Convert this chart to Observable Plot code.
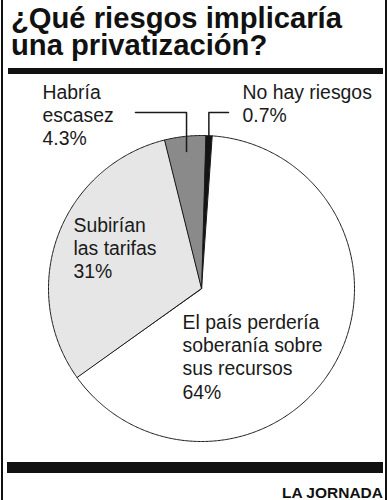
<!DOCTYPE html>
<html>
<head>
<meta charset="utf-8">
<script src="https://cdn.jsdelivr.net/npm/d3@7"></script>
<script src="https://cdn.jsdelivr.net/npm/@observablehq/plot@0.6"></script>
<style>
  body { margin: 0; background: #fff; }
  #wrap { position: relative; width: 389px; height: 500px; overflow: hidden; background: #fff;
          font-family: "Liberation Sans", Arial, Helvetica, sans-serif; color: #111; }
  .border { position: absolute; top: 0; width: 2px; height: 500px; background: #111; }
  .title { position: absolute; left: 11px; font-size: 29.2px; line-height: 27px; height: 27px; font-weight: bold; white-space: nowrap; }
  .bar { position: absolute; background: #111; }
  #chart { position: absolute; left: 0; top: 76px; }
  #credit { position: absolute; right: 6px; top: 484.5px; font-size: 15.5px; line-height: 16px; font-weight: bold; }
</style>
</head>
<body>
<div id="wrap">
  <div class="border" style="left:1px"></div>
  <div class="border" style="left:385px"></div>
  <div class="title" style="top:4.5px">¿Qué riesgos implicaría</div>
  <div class="title" style="top:31.5px">una privatización?</div>
  <div class="bar" style="left:8px;top:68px;width:375px;height:6px"></div>
  <div id="chart"></div>
  <div class="bar" style="left:7px;top:462px;width:376px;height:11px"></div>
  <div id="credit">LA JORNADA</div>
</div>
<script>
// ---- data ----
const categories = ["No hay riesgos", "El país perdería\nsoberanía sobre\nsus recursos", "Subirían\nlas tarifas", "Habría\nescasez"];
const values = [0.7, 64, 31, 4.3];
const valueLabels = ["0.7%", "64%", "31%", "4.3%"];

// ---- layout / style ----
const W = 389, H = 384;
const cx = 201, cy = 212, R = 153;
const rotation = 1.5 * Math.PI / 180;
const fills = ["#141414", "#ffffff", "#e6e6e6", "#8a8a8a"];
const labelPos = [[242, 22], [182, 252], [73, 155], [42, 22]]; // left x, first baseline
const fontSize = 19.4, lineHeight = 1.21;
const leaderSpec = {0: {outerX: 228, elbowY: 36, r: 1.0}, 3: {outerX: 135, elbowY: 36, r: 0.9}};

const arcs = d3.pie().sort(null).startAngle(rotation).endAngle(rotation + 2 * Math.PI)(values);
const pt = (a, r) => ({x: cx + r * Math.sin(a), y: cy - r * Math.cos(a)});

const sliceMarks = arcs.map((a, i) => {
  const pts = [{x: cx, y: cy}];
  const n = Math.max(2, Math.ceil((a.endAngle - a.startAngle) / (Math.PI / 360)));
  for (let k = 0; k <= n; k++) pts.push(pt(a.startAngle + (a.endAngle - a.startAngle) * k / n, R));
  return Plot.line(pts, {x: "x", y: "y", fill: fills[i], stroke: "#1a1a1a", strokeWidth: 1, curve: "linear-closed", strokeLinejoin: "round"});
});

const leaderMarks = Object.entries(leaderSpec).map(([i, s]) => {
  const a = arcs[+i];
  const t = pt((a.startAngle + a.endAngle) / 2, R * s.r);
  return Plot.line([{x: s.outerX, y: s.elbowY}, {x: t.x, y: s.elbowY}, t], {x: "x", y: "y", stroke: "#1a1a1a", strokeWidth: 1.5});
});

const labels = categories.map((c, i) => ({
  text: c + "\n" + valueLabels[i],
  x: labelPos[i][0],
  y: labelPos[i][1] - 0.71 * lineHeight * fontSize
}));

const plot = Plot.plot({
  width: W, height: H,
  margin: 0,
  x: {domain: [0, W], range: [0, W], axis: null},
  y: {domain: [0, H], range: [0, H], axis: null},
  style: {background: "transparent", fontFamily: "\"Liberation Sans\", Arial, Helvetica, sans-serif"},
  marks: [
    ...sliceMarks,
    ...leaderMarks,
    Plot.text(labels, {x: "x", y: "y", text: "text", textAnchor: "start", lineAnchor: "top", lineHeight, fontSize, fill: "#1a1a1a"})
  ]
});
document.getElementById("chart").appendChild(plot);
</script>
</body>
</html>
